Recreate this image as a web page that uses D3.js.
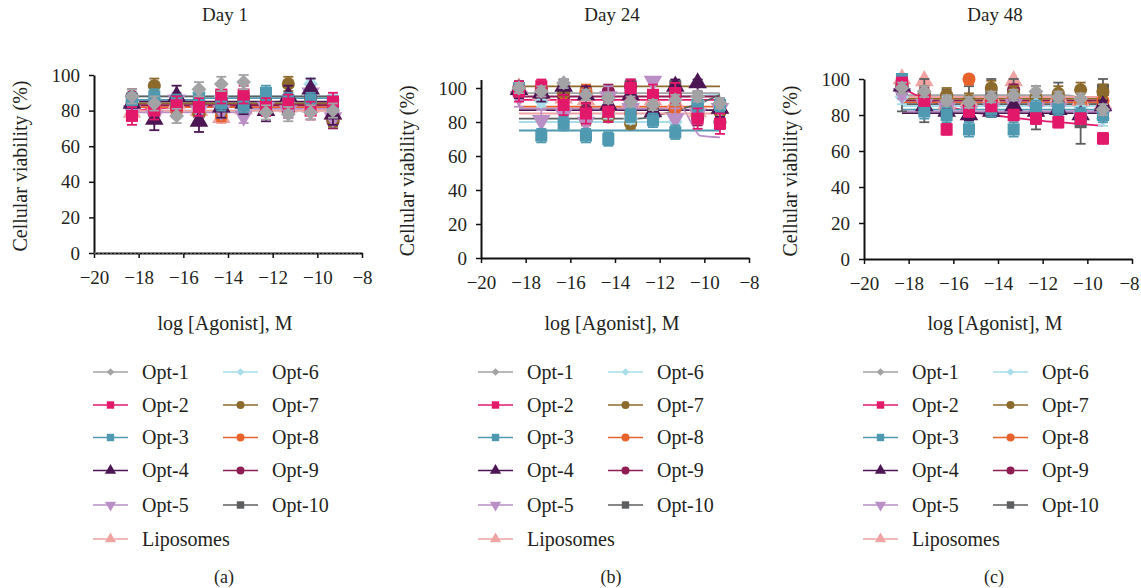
<!DOCTYPE html>
<html><head><meta charset="utf-8">
<script src="https://cdn.jsdelivr.net/npm/d3@7"></script>
<style>
body{margin:0;background:#fff;}
text{font-family:"Liberation Serif","DejaVu Serif",serif;fill:#231f20;}
</style></head>
<body><svg id="chart" width="1141" height="588"></svg>
<script>
// ---------- data ----------
const panelTitles = ["Day 1", "Day 24", "Day 48"];
const panelCaptions = ["(a)", "(b)", "(c)"];
const xTicks = [-20, -18, -16, -14, -12, -10, -8];
const yTicks = [0, 20, 40, 60, 80, 100];
const concentrations = [-18.3, -17.3, -16.3, -15.3, -14.3, -13.3, -12.3, -11.3, -10.3, -9.3];
const seriesNames = ["Opt-1","Opt-2","Opt-3","Opt-4","Opt-5","Opt-6","Opt-7","Opt-8","Opt-9","Opt-10","Liposomes"];
const seriesColors = ["#a3a3a5","#e2196b","#4f9ab1","#4c1554","#b98fc6","#a9dde9","#8c6a2c","#e8632b","#8e1d53","#5d5e60","#f0a3a3"];
const seriesShapes = ["diamond","square","square","triangle","triangleDown","diamond","circle","circle","circle","square","triangle"];

// Day 1 means, error (SD) and fit knots
const day1Means = [
  [88, 84, 77, 92, 95, 96, 79, 78, 79, 80],
  [77, 80, 83, 82, 89, 89, 82, 84, 80, 85],
  [86, 88, 85, 87, 84, 83, 90, 86, 86, 84],
  [84, 75, 88, 74, 82, 84, 80, 88, 92, 78],
  [80, 77, 86, 80, 80, 77, 82, 80, 90, 76],
  [85, 87, 86, 90, 88, 80, 84, 85, 95, 86],
  [85, 94, 83, 78, 80, 86, 82, 95, 85, 75],
  [82, 82, 80, 78, 77, 82, 84, 82, 84, 76],
  [88, 84, 82, 85, 86, 83, 84, 80, 88, 74],
  [86, 85, 84, 88, 88, 87, 86, 83, 87, 85],
  [79, 82, 84, 80, 76, 81, 80, 82, 82, 78]
];
const day1SD = [4, 5, 4, 6, 4, 3, 4, 3, 4, 3, 3];
const day1Fit = [
  [[-18.3, 80], [-9.3, 80]],
  [[-18.3, 79], [-17.5, 81], [-9.3, 84]],
  [[-18.3, 86], [-15.5, 86], [-15.2, 87], [-9.3, 87]],
  [[-18.3, 85], [-9.3, 85]],
  [[-18.3, 79], [-13.6, 79], [-13.3, 81], [-9.3, 81]],
  [[-18.3, 88], [-9.3, 88]],
  [[-18.3, 84], [-9.3, 84]],
  [[-18.3, 82], [-9.3, 82]],
  [[-18.3, 83], [-9.3, 83]],
  [[-18.3, 88], [-9.3, 88]],
  [[-18.3, 80], [-9.3, 80]]
];

// Day 24
const day24Means = [
  [100, 98, 103, 96, 94, 92, 90, 93, 95, 91],
  [98, 101, 90, 85, 86, 100, 96, 97, 82, 79],
  [100, 72, 79, 72, 70, 84, 81, 74, 90, 90],
  [99, 97, 101, 96, 90, 96, 86, 101, 103, 88],
  [95, 81, 85, 80, 95, 88, 104, 82, 85, 88],
  [100, 92, 88, 84, 85, 82, 83, 80, 92, 90],
  [100, 99, 98, 81, 83, 79, 84, 100, 85, 86],
  [100, 100, 97, 98, 86, 85, 84, 88, 85, 86],
  [100, 98, 95, 87, 98, 101, 83, 96, 82, 80],
  [99, 97, 100, 97, 96, 101, 85, 101, 90, 88],
  [100, 96, 94, 93, 90, 92, 93, 91, 86, 88]
];
const day24SD = [3, 6, 4, 5, 6, 3, 3, 4, 4, 3, 3];
const day24Fit = [
  [[-18.3, 97], [-9.3, 97]],
  [[-18.3, 93], [-9.3, 93]],
  [[-18.3, 75], [-9.3, 75]],
  [[-18.3, 87], [-9.3, 87]],
  [[-18.3, 88], [-11.0, 88], [-10.6, 80], [-10.2, 72], [-9.3, 71]],
  [[-18.3, 80], [-11.6, 80], [-11.0, 95], [-9.3, 96]],
  [[-18.3, 101], [-9.3, 101]],
  [[-18.3, 89], [-9.3, 89]],
  [[-18.3, 95], [-9.3, 95]],
  [[-18.3, 82], [-13.0, 82], [-11.5, 86], [-10.0, 92], [-9.3, 96]],
  [[-18.3, 85], [-9.3, 85]]
];

// Day 48
const day48Means = [
  [95, 93, 88, 87, 90, 91, 93, 90, 89, 83],
  [98, 88, 72, 82, 85, 80, 78, 76, 78, 67],
  [100, 82, 80, 72, 83, 72, 84, 84, 80, 80],
  [96, 85, 82, 80, 82, 85, 82, 83, 80, 85],
  [92, 86, 84, 82, 84, 86, 84, 84, 80, 81],
  [90, 84, 86, 79, 86, 84, 86, 85, 84, 78],
  [96, 92, 91, 88, 95, 92, 90, 92, 94, 93],
  [95, 90, 90, 100, 88, 89, 88, 90, 87, 88],
  [97, 92, 87, 85, 88, 94, 86, 86, 83, 85],
  [94, 88, 82, 84, 91, 92, 84, 86, 76, 94],
  [100, 99, 86, 88, 90, 99, 88, 90, 88, 86]
];
const day48SD = [3, 3, 4, 3, 3, 4, 4, 3, 3, 12, 2];
const day48Fit = [
  [[-18.3, 91], [-11.0, 91], [-10.0, 88], [-9.3, 84]],
  [[-18.3, 95], [-17.3, 89], [-16.3, 85], [-15.3, 82], [-14.3, 80], [-13.3, 78.5], [-12.3, 77], [-11.3, 76], [-10.3, 75], [-9.3, 74]],
  [[-18.3, 83], [-9.3, 83]],
  [[-18.3, 81], [-9.3, 81]],
  [[-18.3, 82], [-9.3, 82]],
  [[-18.3, 85], [-9.3, 85]],
  [[-18.3, 89], [-9.3, 89]],
  [[-18.3, 87], [-9.3, 87]],
  [[-18.3, 88], [-9.3, 88]],
  [[-18.3, 86], [-9.3, 86]],
  [[-18.3, 90], [-9.3, 90]]
];

const panelMeans = [day1Means, day24Means, day48Means];
const panelSD = [day1SD, day24SD, day48SD];
const panelFits = [day1Fit, day24Fit, day48Fit];
const panelYMax = [100, 105, 100];

// ---------- layout ----------
const panels = [
  {left: 94, bottom: 253, top: 75, legendX: 93},
  {left: 481, bottom: 258, top: 79.5, legendX: 478},
  {left: 864, bottom: 259, top: 79, legendX: 863}
];
const plotW = 268;
const svg = d3.select("#chart");

function symbolPath(shape, size) {
  let type = d3.symbolSquare, rot = 0;
  if (shape === "circle") type = d3.symbolCircle;
  else if (shape === "triangle") type = d3.symbolTriangle;
  else if (shape === "triangleDown") { type = d3.symbolTriangle; rot = 180; }
  else if (shape === "diamond") { type = d3.symbolSquare; rot = 45; }
  return {d: d3.symbol().type(type).size(size)(), rot};
}
const markerSize = {square: 145, circle: 135, triangle: 150, triangleDown: 150, diamond: 110};

panels.forEach((p, pi) => {
  const g = svg.append("g");
  const x = d3.scaleLinear().domain([-20, -8]).range([p.left, p.left + plotW]);
  const y = d3.scaleLinear().domain([0, panelYMax[pi]]).range([p.bottom, p.top]);
  const cx = p.left + plotW / 2;

  // title
  g.append("text").attr("x", cx - 3).attr("y", 21).attr("text-anchor", "middle")
    .style("font-size", "19px").text(panelTitles[pi]);

  // fit lines
  const line = d3.line().x(d => x(d[0])).y(d => y(d[1])).curve(d3.curveMonotoneX);
  panelFits[pi].forEach((knots, si) => {
    g.append("path").attr("d", line(knots)).attr("fill", "none")
      .attr("stroke", seriesColors[si]).attr("stroke-width", 1.8);
  });

  // error bars and markers, drawn so Opt-1 ends on top
  const order = d3.range(seriesNames.length).reverse();
  order.forEach(si => {
    const means = panelMeans[pi][si];
    const sd = panelSD[pi][si];
    const col = seriesColors[si];
    const sg = g.append("g");
    concentrations.forEach((c, k) => {
      const px = x(c);
      const hi = Math.min(means[k] + sd, panelYMax[pi]);
      sg.append("line").attr("x1", px).attr("x2", px)
        .attr("y1", y(means[k] - sd)).attr("y2", y(hi)).attr("stroke", col).attr("stroke-width", 1.8);
      [means[k] - sd, hi].forEach(v => {
        sg.append("line").attr("x1", px - 5).attr("x2", px + 5)
          .attr("y1", y(v)).attr("y2", y(v)).attr("stroke", col).attr("stroke-width", 1.8);
      });
    });
    const sp = symbolPath(seriesShapes[si], markerSize[seriesShapes[si]]);
    sg.selectAll("path.m").data(means).join("path").attr("class", "m")
      .attr("d", sp.d)
      .attr("transform", (v, k) => `translate(${x(concentrations[k])},${y(v)}) rotate(${sp.rot})`)
      .attr("fill", col);
  });

  // axes
  const yAxis = d3.axisLeft(y).tickValues(yTicks).tickSize(5).tickSizeOuter(0).tickPadding(9);
  const xAxis = d3.axisBottom(x).tickValues(xTicks).tickSize(5).tickSizeOuter(0).tickPadding(8);
  const ya = g.append("g").attr("transform", `translate(${p.left},0)`).call(yAxis);
  const xa = g.append("g").attr("transform", `translate(0,${p.bottom})`).call(xAxis);
  [ya, xa].forEach(a => {
    a.select(".domain").attr("stroke", "#111").attr("stroke-width", 2);
    a.selectAll(".tick line").attr("stroke", "#111").attr("stroke-width", 1.5);
    a.selectAll(".tick text").style("font-size", "19px").attr("fill", "#231f20").attr("font-family", "Liberation Serif");
  });
  xa.selectAll(".tick text").attr("dy", "0.95em");
  if (pi === 2) {
    xa.selectAll(".tick text").filter(d => d === -8).attr("dx", "-3");
  }
  if (pi === 0) {
    g.append("line").attr("x1", x(-20)).attr("x2", x(-8)).attr("y1", y(0)).attr("y2", y(0))
      .attr("stroke", "#9a9a9a").attr("stroke-width", 1).attr("stroke-dasharray", "2,2");
  }

  // axis labels
  g.append("text").attr("x", cx - 3).attr("y", 330).attr("text-anchor", "middle")
    .style("font-size", "20px").text("log [Agonist], M");
  g.append("text").attr("transform", `translate(${p.left - 67},${(p.top + p.bottom) / 2 + 2}) rotate(-90)`)
    .attr("text-anchor", "middle").style("font-size", "20px").text("Cellular viability (%)");

  // legend
  const rowY = [372, 405, 437.5, 470.5, 505, 539];
  seriesNames.forEach((name, si) => {
    const col = si < 5 || si === 10 ? 0 : 1;
    const row = si === 10 ? 5 : (si < 5 ? si : si - 5);
    const lx = p.legendX + col * 130;
    const ly = rowY[row];
    const lg = g.append("g");
    lg.append("line").attr("x1", lx).attr("x2", lx + 35).attr("y1", ly).attr("y2", ly)
      .attr("stroke", seriesColors[si]).attr("stroke-width", 1.6);
    const sp = symbolPath(seriesShapes[si], seriesShapes[si] === "circle" ? 50 : (seriesShapes[si] === "diamond" ? 30 : 55));
    lg.append("path").attr("d", sp.d).attr("transform", `translate(${lx + 17.5},${ly}) rotate(${sp.rot})`)
      .attr("fill", seriesColors[si]);
    lg.append("text").attr("x", lx + 49).attr("y", ly + 6.5).style("font-size", "20px").text(name);
  });

  // caption
  g.append("text").attr("x", cx - 4).attr("y", 583).attr("text-anchor", "middle")
    .style("font-size", "18px").text(panelCaptions[pi]);
});
</script></body></html>
